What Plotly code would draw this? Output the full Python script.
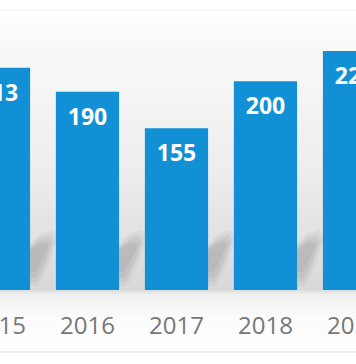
import base64
import plotly.graph_objects as go

years = ["2015", "2016", "2017", "2018", "2019"]
values = [213, 190, 155, 200, 229]

BAR = "#1190d6"
W, H = 356, 364
PX_PER_UNIT = 1.044
BASE_PX = 290
Y_TOP = BASE_PX / PX_PER_UNIT
Y_BOT = -(H - BASE_PX) / PX_PER_UNIT
X_RANGE = [0.017, 4.017]

svg = f"""<svg xmlns='http://www.w3.org/2000/svg' width='{W}' height='{H}' viewBox='0 0 {W} {H}' preserveAspectRatio='none'>
<defs><linearGradient id='g' x1='0' y1='0' x2='0' y2='1'>
<stop offset='0' stop-color='#ffffff'/>
<stop offset='0.03' stop-color='#ffffff'/>
<stop offset='0.12' stop-color='#f9f9f9'/>
<stop offset='0.45' stop-color='#eeeeee'/>
<stop offset='0.795' stop-color='#d9d9d9'/>
<stop offset='0.81' stop-color='#f1f1f1'/>
<stop offset='0.88' stop-color='#fcfcfc'/>
<stop offset='1' stop-color='#ffffff'/>
</linearGradient></defs>
<rect x='0' y='0' width='{W}' height='{H}' fill='url(#g)'/>
</svg>"""
src = "data:image/svg+xml;base64," + base64.b64encode(svg.encode()).decode()

fig = go.Figure()
fig.add_trace(go.Bar(
    x=years, y=values, marker=dict(color=BAR, line=dict(width=0)),
    hoverinfo="skip", showlegend=False,
))
fig.add_trace(go.Scatter(
    x=years, y=[v - 26 for v in values], mode="text",
    text=[str(v) for v in values],
    textfont=dict(family="Open Sans", size=23, color="white", weight="bold"),
    textposition="middle center", showlegend=False, hoverinfo="skip",
))
fig.add_trace(go.Scatter(
    x=years, y=[-36] * len(years), mode="text", text=years,
    textfont=dict(family="Open Sans", size=24, color="#777777"),
    textposition="middle center", showlegend=False, hoverinfo="skip",
))

half = 0.355
shapes = []
layers = [
    ([(0, 4), (0, 46), (10, 56), (22, 60), (28, 54), (20, 28), (8, 4)], 0.035),
    ([(0, 8), (0, 44), (10, 53), (20, 56), (25, 51), (17, 28), (7, 8)], 0.04),
    ([(0, 12), (0, 42), (10, 50), (18, 52), (22, 48), (15, 28), (6, 12)], 0.045),
    ([(0, 18), (0, 40), (9, 47), (16, 48), (19, 45), (12, 30), (5, 18)], 0.05),
]
for i in range(len(years) - 1):
    gx = i + half
    for pts_px, op in layers:
        path = "M " + " L ".join(f"{gx + px / 89:.4f},{py / PX_PER_UNIT:.2f}" for px, py in pts_px) + " Z"
        shapes.append(dict(type="path", path=path, xref="x", yref="y", layer="below",
                           fillcolor=f"rgba(0,0,0,{op})", line=dict(width=0)))

shapes.append(dict(type="line", xref="paper", yref="paper", x0=0, x1=1,
                   y0=1 - 10 / H, y1=1 - 10 / H, line=dict(color="#eeeeee", width=1), layer="below"))
shapes.append(dict(type="line", xref="paper", yref="paper", x0=0, x1=1,
                   y0=1 - 352 / H, y1=1 - 352 / H, line=dict(color="#dedede", width=1), layer="below"))

fig.update_layout(
    width=W, height=H,
    margin=dict(l=0, r=0, t=0, b=0),
    paper_bgcolor="white", plot_bgcolor="rgba(0,0,0,0)",
    bargap=0.29,
    xaxis=dict(type="category", range=X_RANGE, visible=False, fixedrange=True),
    yaxis=dict(range=[Y_BOT, Y_TOP], visible=False, fixedrange=True),
    images=[dict(source=src, xref="paper", yref="paper", x=0, y=1, sizex=1, sizey=1,
                 xanchor="left", yanchor="top", sizing="stretch", layer="below")],
    shapes=shapes,
)
fig.write_html("out.html", config={"displayModeBar": False},
               post_script="document.body.style.margin='0';document.body.style.overflow='hidden';")
